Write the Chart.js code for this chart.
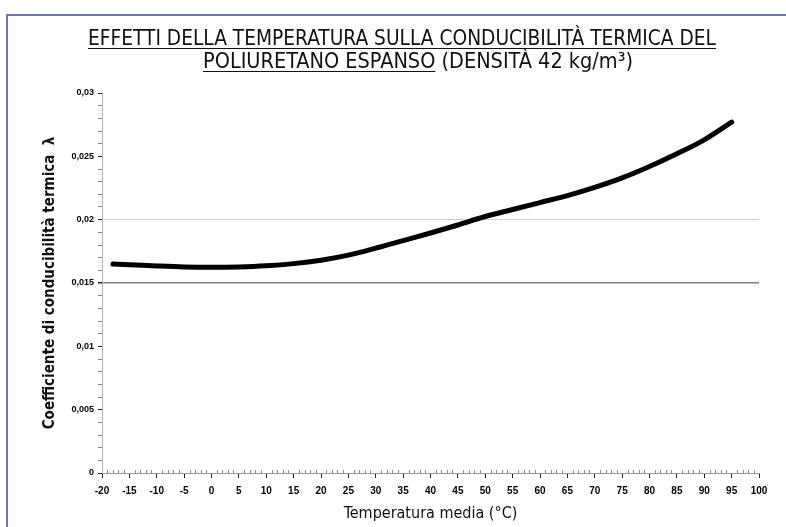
<!DOCTYPE html>
<html>
<head>
<meta charset="utf-8">
<script src="https://cdn.jsdelivr.net/npm/chart.js@4.4.0/dist/chart.umd.min.js"></script>
<style>
  html, body { margin: 0; padding: 0; background: #fff; }
  #wrap { width: 786px; height: 527px; position: relative; }
</style>
</head>
<body>
<div id="wrap"><canvas id="lambdaChart"></canvas></div>
<script>
// temperatura media (°C) e coefficiente di conducibilità termica
var temperature = [-18, -15, -10, -5, 0, 5, 10, 15, 20, 25, 30, 35, 40, 45, 50, 55, 60, 65, 70, 75, 80, 85, 90, 95];
var lambda = [0.0165, 0.01645, 0.01635, 0.01627, 0.01624, 0.01627, 0.01636, 0.01653, 0.0168, 0.0172, 0.01775, 0.01835,
              0.01895, 0.01958, 0.02025, 0.0208, 0.02135, 0.0219, 0.02255, 0.0233, 0.0242, 0.0252, 0.0263, 0.0277];

// etichette degli assi
var xTickLabels = ['-20', '-15', '-10', '-5', '0', '5', '10', '15', '20', '25', '30', '35', '40',
                   '45', '50', '55', '60', '65', '70', '75', '80', '85', '90', '95', '100'];
var yTickLabels = ['0', '0,005', '0,01', '0,015', '0,02', '0,025', '0,03'];

var titleLine1 = 'EFFETTI DELLA TEMPERATURA SULLA CONDUCIBILITÀ TERMICA DEL';
var titleLine2a = 'POLIURETANO ESPANSO';
var titleLine2b = ' (DENSITÀ 42 kg/m³)';

var narrow = '"Liberation Sans Narrow", "DejaVu Sans Condensed", "Arial Narrow", sans-serif';

var points = temperature.map(function (t, i) { return { x: t, y: lambda[i] }; });

// cornice, titolo e tacche minori dell'asse x
var decorations = {
  id: 'decorations',
  beforeDraw: function (chart) {
    var ctx = chart.ctx;
    ctx.save();
    ctx.fillStyle = '#fff';
    ctx.fillRect(0, 0, chart.width, chart.height);
    ctx.strokeStyle = '#6f74b8';
    ctx.lineWidth = 2;
    ctx.beginPath();
    ctx.moveTo(7, chart.height);
    ctx.lineTo(7, 15);
    ctx.lineTo(chart.width, 15);
    ctx.stroke();
    ctx.restore();
  },
  afterDraw: function (chart) {
    var ctx = chart.ctx;
    ctx.save();
    ctx.fillStyle = '#111';
    ctx.strokeStyle = '#111';
    ctx.textBaseline = 'alphabetic';
    ctx.font = '22px ' + narrow;

    // prima riga, tutta sottolineata
    var w1 = ctx.measureText(titleLine1).width;
    var sx1 = 628 / w1;
    ctx.save();
    ctx.translate(88, 45);
    ctx.scale(sx1, 1);
    ctx.fillText(titleLine1, 0, 0);
    ctx.restore();
    ctx.lineWidth = 1.2;
    ctx.beginPath();
    ctx.moveTo(88, 48.5);
    ctx.lineTo(88 + w1 * sx1, 48.5);
    ctx.stroke();

    // seconda riga, sottolineata solo la prima parte
    var wa = ctx.measureText(titleLine2a).width;
    var wb = ctx.measureText(titleLine2b).width;
    var sx2 = 430 / (wa + wb);
    ctx.save();
    ctx.translate(203, 68);
    ctx.scale(sx2, 1);
    ctx.fillText(titleLine2a, 0, 0);
    ctx.fillText(titleLine2b, wa, 0);
    ctx.restore();
    ctx.beginPath();
    ctx.moveTo(203, 71.5);
    ctx.lineTo(203 + wa * sx2, 71.5);
    ctx.stroke();

    // tacche minori ogni grado
    var xs = chart.scales.x;
    var base = chart.chartArea.bottom;
    ctx.strokeStyle = '#8a8a8a';
    ctx.lineWidth = 1;
    ctx.beginPath();
    for (var t = xs.min; t <= xs.max; t++) {
      if (t % 5 === 0) continue;
      var px = Math.round(xs.getPixelForValue(t)) + 0.5;
      ctx.moveTo(px, base);
      ctx.lineTo(px, base - 3);
    }
    ctx.stroke();
    ctx.restore();
  }
};

var ctxL = document.getElementById('lambdaChart').getContext('2d');
var lambdaChart = new Chart(ctxL, {
  type: 'line',
  data: {
    datasets: [{
      data: points,
      borderColor: '#000',
      borderWidth: 5,
      borderCapStyle: 'round',
      pointRadius: 0,
      fill: false,
      cubicInterpolationMode: 'monotone'
    }]
  },
  options: {
    responsive: true,
    maintainAspectRatio: false,
    animation: false,
    layout: { padding: { left: 41, top: 93, right: 27, bottom: 0 } },
    plugins: {
      legend: { display: false },
      tooltip: { enabled: false }
    },
    scales: {
      x: {
        type: 'linear',
        min: -20,
        max: 100,
        afterFit: function (scale) { scale.height = 54; },
        border: { color: '#9a9a9a', width: 1 },
        grid: {
          drawOnChartArea: false,
          drawTicks: true,
          tickLength: 5,
          tickColor: '#222'
        },
        ticks: {
          stepSize: 5,
          autoSkip: false,
          maxRotation: 0,
          padding: 7,
          color: '#000',
          font: { family: 'Liberation Sans', size: 10, weight: 'bold' },
          callback: function (value) {
            return xTickLabels[Math.round((value + 20) / 5)];
          }
        },
        title: {
          display: true,
          text: 'Temperatura media (°C)',
          color: '#111',
          font: { family: narrow, size: 16 },
          padding: { top: 0, bottom: 4 }
        }
      },
      y: {
        min: 0,
        max: 0.03,
        afterFit: function (scale) { scale.width = 61; },
        border: { color: '#b0b0b0', width: 1 },
        grid: {
          drawTicks: true,
          tickLength: 4,
          color: function (c) {
            var k = Math.round(c.tick.value * 1000);
            if (k === 15) return '#808080';
            if (k === 20) return '#cfcfcf';
            return 'rgba(0,0,0,0)';
          },
          lineWidth: function (c) {
            return Math.round(c.tick.value * 1000) === 15 ? 1.5 : 1;
          },
          tickColor: function (c) {
            return Math.round(c.tick.value * 1000) % 5 === 0 ? '#222' : '#8a8a8a';
          }
        },
        ticks: {
          stepSize: 0.001,
          autoSkip: false,
          padding: 4,
          color: '#000',
          font: { family: 'Liberation Sans', size: 9, weight: 'bold' },
          callback: function (value) {
            var k = Math.round(value * 1000);
            return k % 5 === 0 ? yTickLabels[k / 5] : '';
          }
        },
        title: {
          display: true,
          text: 'Coefficiente di conducibilità termica  λ',
          color: '#111',
          font: { family: narrow, size: 15, weight: 'bold' },
          padding: { top: 0, bottom: 0 }
        }
      }
    }
  },
  plugins: [decorations]
});
</script>
</body>
</html>
